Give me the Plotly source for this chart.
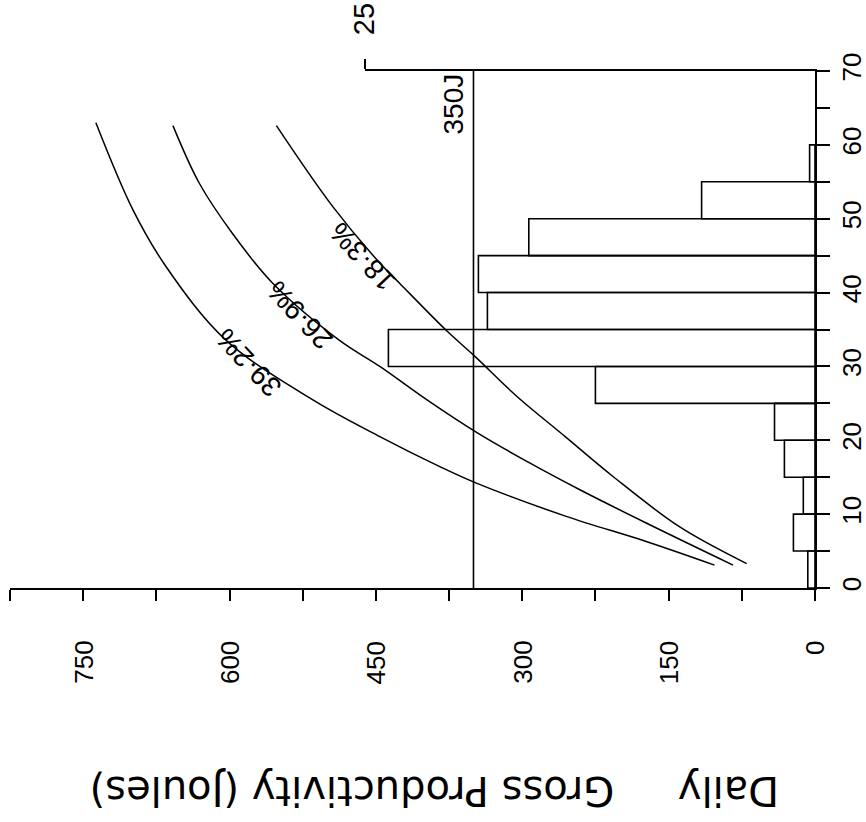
import plotly.graph_objects as go

# ---------------- data ----------------
# vertical scale (0-70) values at which the curves were read
v_392 = [3.1, 6.3, 9.7, 14.2, 16.4, 20.5, 25.5, 33.6, 43.5, 51.2, 63.0]
p_392 = [103, 173, 255, 347, 384, 446, 515, 604, 665, 699, 737]

v_269 = [3.1, 8.8, 13.3, 16.9, 21.0, 25.5, 30.0, 33.6, 41.3, 48.0, 54.8, 62.6]
p_269 = [84, 173, 241, 292, 346, 398, 446, 488, 556, 597, 631, 658]

v_183 = [3.3, 8.3, 15.1, 20.5, 26.0, 31.3, 34.9, 41.3, 44.0, 51.6, 62.6]
p_183 = [70, 139, 207, 256, 306, 348, 378, 426, 446, 494, 552]

curve_labels = ["39·2%", "26·9%", "18·3%"]
label_p = [580, 528, 464]
label_v = [30.5, 37.0, 44.8]

# histogram (5-unit bins)
bin_lo = [0, 5, 10, 15, 20, 25, 30, 35, 40, 45, 50, 55]
bin_width = 5
freq = [0.4, 1.2, 0.65, 1.7, 2.25, 12.2, 23.7, 18.2, 18.7, 15.9, 6.3, 0.3]

threshold = 350
threshold_label = "350J"
v_range = [0, 70]
p_range = [825, 0]
freq_range = [25, 0]

# productivity tick labels
p_tick_vals = [0, 150, 300, 450, 600, 750]
p_tick_text = ["0", "150", "300", "450", "600", "750"]

title_text = "Daily\u00a0\u00a0\u00a0\u00a0 Gross Productivity (Joules)"

# ---------------- figure ----------------
FONT = "Liberation Sans, Arial, Helvetica, sans-serif"
fig = go.Figure()

bin_centers = [b + bin_width / 2 for b in bin_lo]
fig.add_trace(go.Bar(
    orientation="h", y=bin_centers, x=freq, width=bin_width,
    marker=dict(color="rgba(0,0,0,0)", line=dict(color="black", width=1.6)),
    xaxis="x2", yaxis="y", showlegend=False, hoverinfo="skip"))

fig.add_trace(go.Scatter(
    x=[threshold, threshold], y=v_range, mode="lines",
    line=dict(color="black", width=1.6), showlegend=False, hoverinfo="skip"))

for vv, pp in [(v_392, p_392), (v_269, p_269), (v_183, p_183)]:
    fig.add_trace(go.Scatter(
        x=pp, y=vv, mode="lines", line=dict(color="black", width=1.5, shape="spline"),
        showlegend=False, hoverinfo="skip"))

annotations = []
for txt, pp, vv in zip(curve_labels, label_p, label_v):
    annotations.append(dict(
        x=pp, y=vv, xref="x", yref="y", text=txt, showarrow=False,
        textangle=-133, font=dict(family=FONT, size=28, color="black"),
        xanchor="center", yanchor="middle", borderpad=0))

annotations.append(dict(
    x=threshold, y=v_range[1], xref="x", yref="y", text=threshold_label,
    showarrow=False, textangle=-90, xanchor="right", yanchor="top",
    xshift=-3, yshift=-1, borderpad=0,
    font=dict(family=FONT, size=28, color="black")))

# productivity tick labels placed on the x scale, top-aligned below the axis
for tv, tt in zip(p_tick_vals, p_tick_text):
    annotations.append(dict(
        x=tv, y=-0.1006, xref="x", yref="paper", text=tt, showarrow=False,
        textangle=-90, xanchor="center", yanchor="top", borderpad=0,
        font=dict(family=FONT, size=26, color="black")))

annotations.append(dict(
    x=0.528, y=-0.393, xref="paper", yref="paper", text=title_text,
    showarrow=False, textangle=180, xanchor="center", yanchor="middle",
    font=dict(family="DejaVu Sans, sans-serif", size=40, color="black")))

tickfont = dict(family=FONT, size=26, color="black")

fig.update_layout(
    width=866, height=822, autosize=False,
    margin=dict(l=10, r=51, t=71, b=234, pad=0, autoexpand=False),
    paper_bgcolor="white", plot_bgcolor="rgba(0,0,0,0)",
    showlegend=False,
    xaxis=dict(
        domain=[0, 1], anchor="y", side="bottom", range=p_range, automargin=False,
        showline=True, linecolor="black", linewidth=2,
        ticks="outside", ticklen=11, tickwidth=2, tickcolor="black",
        tickvals=p_tick_vals, showticklabels=False,
        minor=dict(ticks="outside", dtick=75, tick0=0, ticklen=11, tickwidth=2,
                   tickcolor="black", showgrid=False),
        showgrid=False, zeroline=False),
    xaxis2=dict(
        domain=[0.441, 1], anchor="y", side="top", range=freq_range, automargin=False,
        showline=True, linecolor="black", linewidth=2,
        ticks="outside", ticklen=10, tickwidth=2, tickcolor="black",
        tickvals=[25], ticktext=["25"], tickangle=-90,
        tickfont=dict(family=FONT, size=29, color="black"),
        ticklabelstandoff=18, showgrid=False, zeroline=False),
    yaxis=dict(
        domain=[0, 1], anchor="x", side="right", range=v_range, automargin=False,
        showline=True, linecolor="black", linewidth=2,
        ticks="outside", ticklen=13, tickwidth=2, tickcolor="black",
        tick0=0, dtick=10, tickangle=-90, tickfont=tickfont,
        ticklabelstandoff=0,
        minor=dict(ticks="outside", dtick=5, tick0=0, ticklen=13, tickwidth=2,
                   tickcolor="black", showgrid=False),
        showgrid=False, zeroline=False),
    annotations=annotations,
)

fig.write_html("out.html", config={"displayModeBar": False},
               post_script="document.body.style.margin='0';")
